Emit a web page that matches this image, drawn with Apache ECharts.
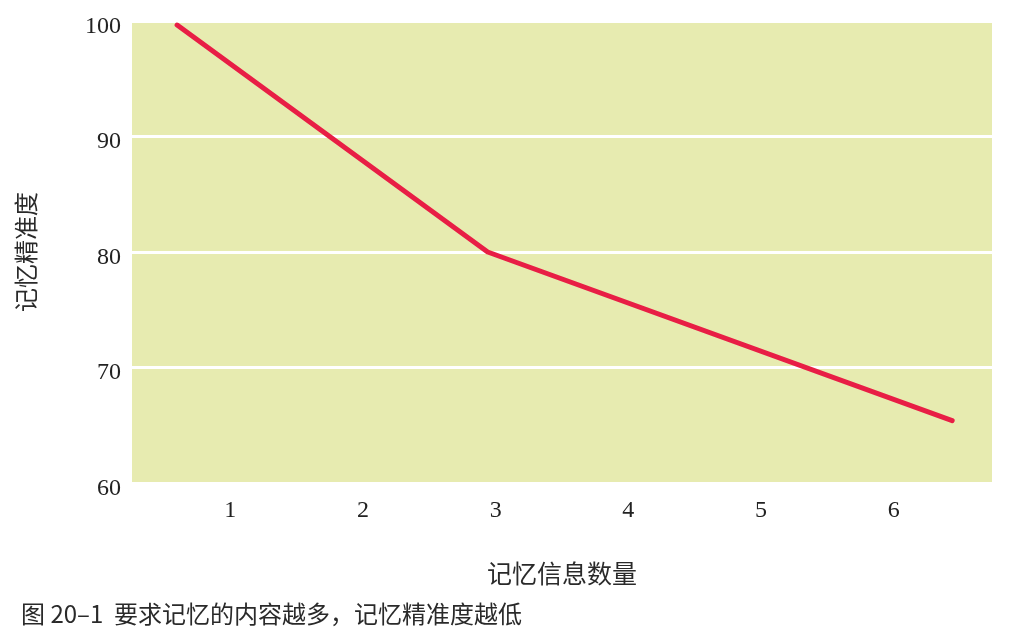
<!DOCTYPE html>
<html>
<head>
<meta charset="utf-8">
<script src="https://cdn.jsdelivr.net/npm/echarts@6/dist/echarts.min.js"></script>
<style>
html,body{margin:0;padding:0;background:#fff;}
#c{width:1012px;height:638px;}
</style>
</head>
<body>
<div id="c"></div>
<script>
// Data
const xValues = [0.6, 2.94, 6.44];
const yValues = [99.65, 80, 65.4];
const xTickLabels = [1, 2, 3, 4, 5, 6];
const yTicks = [60, 70, 80, 90, 100];
const xAxisTitle = '记忆信息数量';
const yAxisTitle = '记忆精准度';
const caption = '图 20–1  要求记忆的内容越多，记忆精准度越低';

const points = xValues.map((x, i) => [x, yValues[i]]);
const serif = '"Liberation Serif", "DejaVu Serif", serif';
const cjk = '"Noto Sans CJK SC", sans-serif';

const chart = echarts.init(document.getElementById('c'), null, {renderer: 'canvas'});
chart.setOption({
  backgroundColor: '#ffffff',
  animation: false,
  title: {
    text: caption,
    left: 16,
    top: 597,
    textStyle: {fontFamily: cjk, fontSize: 24, fontWeight: 'normal', color: '#2a2a2a'}
  },
  grid: {
    left: 132, right: 20, top: 21, bottom: 155,
    outerBoundsMode: 'none',
    containLabel: false,
    show: true, backgroundColor: '#e7ebb0', borderWidth: 0
  },
  xAxis: {
    type: 'value',
    min: 0.26, max: 6.74,
    name: xAxisTitle,
    nameLocation: 'middle',
    nameGap: 78,
    nameTextStyle: {fontFamily: cjk, fontSize: 25, color: '#2a2a2a'},
    axisLine: {show: false},
    axisTick: {show: false},
    splitLine: {show: false},
    axisLabel: {
      customValues: xTickLabels,
      fontFamily: serif, fontSize: 24, color: '#222222', margin: 16
    }
  },
  yAxis: {
    type: 'value',
    min: yTicks[0], max: yTicks[yTicks.length - 1], interval: 10,
    name: yAxisTitle,
    nameLocation: 'middle',
    nameRotate: 90,
    nameGap: 94,
    nameTextStyle: {fontFamily: cjk, fontSize: 24, color: '#2a2a2a'},
    axisLine: {show: false},
    axisTick: {show: false},
    splitLine: {show: true, lineStyle: {color: '#ffffff', width: 3}},
    axisLabel: {
      margin: 11,
      formatter: v => '{a|' + v + '}',
      rich: {a: {fontFamily: serif, fontSize: 24, color: '#222222', padding: [11, 0, 0, 0]}}
    }
  },
  series: [{
    type: 'line',
    data: points,
    symbol: 'none',
    lineStyle: {color: '#e81e45', width: 5, cap: 'round', join: 'round'},
    z: 3
  }]
});
</script>
</body>
</html>
